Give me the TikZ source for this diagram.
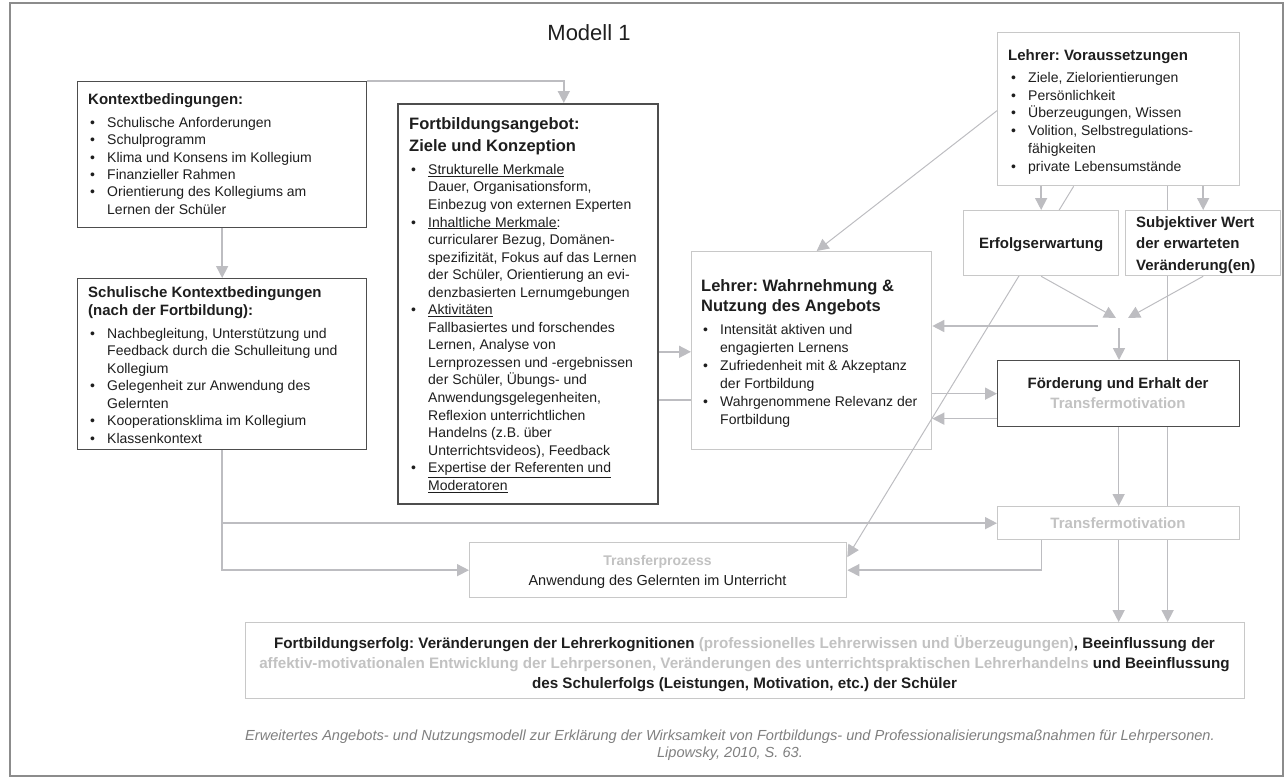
\documentclass[tikz,border=0pt]{standalone}
\usepackage{fontspec}
\setmainfont{Liberation Sans}
\usetikzlibrary{arrows.meta,calc}
\definecolor{dgray}{HTML}{4D4D4D}
\definecolor{lgray}{HTML}{C8C8C8}
\definecolor{acol}{HTML}{BDBDC1}
\definecolor{dcol}{HTML}{A8A8AC}
\definecolor{tcol}{HTML}{1E1E1E}
\definecolor{gtext}{HTML}{C2C2C2}
\definecolor{ctext}{HTML}{7F7F7F}
\definecolor{framecol}{HTML}{8C8C8C}
\pgfdeclarelayer{bg}\pgfdeclarelayer{lines}\pgfsetlayers{bg,lines,main}
\newcommand{\bitem}{\makebox[18pt][l]{\hspace{1pt}\textbullet}}
\newcommand{\bcont}{\hspace*{18pt}}
\frenchspacing
\tikzset{
  dbox/.style={rectangle, draw=dgray, line width=1.3pt, fill=white, inner sep=0pt, anchor=north west},
  lbox/.style={rectangle, draw=lgray, line width=1.3pt, fill=white, inner sep=0pt, anchor=north west},
  ttl/.style={inner sep=0pt, text=tcol, font=\fontsize{15}{18}\selectfont\bfseries},
  bigttl/.style={inner sep=0pt, text=tcol, anchor=north west, align=left},
  itm/.style={inner sep=0pt, anchor=north west, align=left, text=tcol},
  gttl/.style={inner sep=0pt, text=gtext, font=\fontsize{15}{18}\selectfont\bfseries},
  arr/.style={draw=acol, line width=1.6pt, -{Triangle[length=12pt,width=12pt]}, color=acol},
  ln/.style={draw=acol, line width=1.6pt},
  dg/.style={draw=dcol, line width=1pt, -{Triangle[length=12pt,width=12pt]}, color=acol},
  capt/.style={inner sep=0pt, anchor=base, text=ctext, font=\fontsize{14.6}{17}\selectfont\itshape},
  eline/.style={inner sep=0pt, anchor=base, text=tcol, font=\fontsize{15.2}{20}\selectfont\bfseries}
}
\begin{document}
\frenchspacing
\begin{tikzpicture}[x=1pt,y=-1pt]
\useasboundingbox (0,0) rectangle (1285,780);
\draw[draw=framecol, line width=1.5pt] (10,3) rectangle (1283,776);
\node[font=\fontsize{22}{26}\selectfont, text=tcol, anchor=base, inner sep=0pt] (title) at (589,40) {Modell 1};

% boxes
\node[dbox, minimum width=289pt, minimum height=146pt] (kontext) at (77,81) {};
\node[dbox, minimum width=289pt, minimum height=171pt] (schul) at (77,278) {};
\node[dbox, line width=1.6pt, minimum width=260pt, minimum height=400pt] (fortb) at (397,103) {};
\begin{pgfonlayer}{bg}
\node[lbox, minimum width=240pt, minimum height=198pt] (wahr) at (691,251) {};
\end{pgfonlayer}
\node[lbox, minimum width=242pt, minimum height=153pt] (vor) at (997,32) {};
\node[lbox, minimum width=155pt, minimum height=65pt] (erf) at (963,210) {};
\node[lbox, minimum width=155pt, minimum height=65pt] (subj) at (1125,210) {};
\node[dbox, minimum width=242pt, minimum height=66pt] (foerd) at (997,360) {};
\node[lbox, minimum width=242pt, minimum height=33pt] (tmot) at (997,506) {};
\node[lbox, minimum width=377pt, minimum height=55pt] (tproz) at (469,542) {};
\node[lbox, minimum width=999pt, minimum height=76pt] (erfolg) at (245,622) {};

% connectors
\begin{pgfonlayer}{lines}
\draw[arr] (kontext.north east) -| ([xshift=36pt]fortb.north);
\draw[arr] (kontext.south) -- (schul.north);
\draw[arr] (schul.south) |- (tproz.west);
\coordinate (s1) at (schul.south |- tmot.west);
\draw[arr] (s1) -- (tmot.west);
\coordinate (f1) at ([yshift=-48pt]fortb.east);
\draw[arr] (f1) -- (f1 -| wahr.west);
\coordinate (f2) at ([yshift=-96pt]fortb.east);
\draw[ln] (f2) -- (f2 -| wahr.west);
\draw[dg] ([yshift=-1.5pt]vor.west) -- ([xshift=5pt]wahr.north);
\draw[arr] (vor.south -| erf.north) -- (erf.north);
\draw[arr] (vor.south -| subj.north) -- (subj.north);
\coordinate (ja) at (1116,318);
\coordinate (jb) at (1128,318);
\coordinate (jh) at (1098,326);
\coordinate (jv) at (1119,328);
\draw[dg] (erf.south) -- (ja);
\draw[dg] (subj.south) -- (jb);
\draw[arr] (jh) -- (jh -| wahr.east);
\draw[arr] (jv) -- (jv |- foerd.north);
\coordinate (w1) at ([yshift=-43pt]wahr.east);
\draw[arr] (w1) -- (w1 -| foerd.west);
\coordinate (w2) at ([yshift=-25pt]foerd.west);
\draw[arr] (w2) -- (w2 -| wahr.east);
\draw[arr] (foerd.south) -- (tmot.north);
\coordinate (v1) at ([xshift=49pt]vor.south);
\draw[arr] (v1) -- (v1 |- erfolg.north);
\draw[arr] (tmot.south) -- (tmot.south |- erfolg.north);
\coordinate (t1) at ([xshift=-77pt]tmot.south);
\draw[arr] (t1) |- (tproz.east);
\coordinate (t2) at ([yshift=13pt]tproz.east);
\coordinate (d0) at ([xshift=-45pt]vor.south);
\draw[dg] (d0) -- (t2);
\end{pgfonlayer}

% texts
\node[ttl, anchor=base west] (kontextT) at (88,104) {Kontextbedingungen:};
\node[itm, font=\fontsize{14}{17.4}\selectfont] (kontextL) at (89,117) {%
\bitem Schulische Anforderungen\\
\bitem Schulprogramm\\
\bitem Klima und Konsens im Kollegium\\
\bitem Finanzieller Rahmen\\
\bitem Orientierung des Kollegiums am\\
\bcont Lernen der Schüler};

\node[bigttl, font=\fontsize{15}{18}\selectfont\bfseries] (schulT) at (88,286.3) {Schulische Kontextbedingungen\\(nach der Fortbildung):};
\node[itm, font=\fontsize{14}{17.5}\selectfont] (schulL) at (89,328) {%
\bitem Nachbegleitung, Unterstützung und\\
\bcont Feedback durch die Schulleitung und\\
\bcont Kollegium\\
\bitem Gelegenheit zur Anwendung des\\
\bcont Gelernten\\
\bitem Kooperationsklima im Kollegium\\
\bitem Klassenkontext};

\node[bigttl, font=\fontsize{16.5}{22}\selectfont\bfseries] (fortbT) at (409,117.2) {Fortbildungsangebot:\\Ziele und Konzeption};
\node[itm, font=\fontsize{14}{17.55}\selectfont] (fortbL) at (410,164) {%
\bitem \underline{Strukturelle Merkmale}\\
\bcont Dauer, Organisationsform,\\
\bcont Einbezug von externen Experten\\
\bitem \underline{Inhaltliche Merkmale}:\\
\bcont curricularer Bezug, Domänen-\\
\bcont spezifizität, Fokus auf das Lernen\\
\bcont der Schüler, Orientierung an evi-\\
\bcont denzbasierten Lernumgebungen\\
\bitem \underline{Aktivitäten}\\
\bcont Fallbasiertes und forschendes\\
\bcont Lernen, Analyse von\\
\bcont Lernprozessen und -ergebnissen\\
\bcont der Schüler, Übungs- und\\
\bcont Anwendungsgelegenheiten,\\
\bcont Reflexion unterrichtlichen\\
\bcont Handelns (z.B. über\\
\bcont Unterrichtsvideos), Feedback\\
\bitem \underline{Expertise der Referenten und}\\
\bcont \underline{Moderatoren}};

\node[bigttl, font=\fontsize{16.5}{20}\selectfont\bfseries] (wahrT) at (701,279.2) {Lehrer: Wahrnehmung \&\\Nutzung des Angebots};
\node[itm, font=\fontsize{14}{18}\selectfont] (wahrL) at (702,324) {%
\bitem Intensität aktiven und\\
\bcont engagierten Lernens\\
\bitem Zufriedenheit mit \& Akzeptanz\\
\bcont der Fortbildung\\
\bitem Wahrgenommene Relevanz der\\
\bcont Fortbildung};

\node[ttl, anchor=base west] (vorT) at (1008,60) {Lehrer: Voraussetzungen};
\node[itm, font=\fontsize{14}{17.8}\selectfont] (vorL) at (1010,72) {%
\bitem Ziele, Zielorientierungen\\
\bitem Persönlichkeit\\
\bitem Überzeugungen, Wissen\\
\bitem Volition, Selbstregulations-\\
\bcont fähigkeiten\\
\bitem private Lebensumstände};

\node[ttl, anchor=base] (erfT) at ([yshift=-5.5pt]erf.center) {Erfolgserwartung};
\node[bigttl, font=\fontsize{15}{21.5}\selectfont\bfseries] (subjT) at (1136,216.2) {Subjektiver Wert\\der erwarteten\\Veränderung(en)};

\node[ttl, anchor=base] (foerdT1) at (1118,388) {Förderung und Erhalt der};
\node[gttl, anchor=base] (foerdT2) at (1118,408) {Transfermotivation};
\node[gttl, anchor=base] (tmotT) at (1118,528) {Transfermotivation};

\node[inner sep=0pt, anchor=base, text=gtext, font=\fontsize{14}{17}\selectfont\bfseries] (tprozT1) at (657.5,565) {Transferprozess};
\node[inner sep=0pt, anchor=base, text=tcol, font=\fontsize{14.5}{17}\selectfont] (tprozT2) at (657.5,585) {Anwendung des Gelernten im Unterricht};

\node[eline] (erfolgT1) at (744.5,648) {Fortbildungserfolg: Veränderungen der Lehrerkognitionen \textcolor{gtext}{(professionelles Lehrerwissen und Überzeugungen)}, Beeinflussung der};
\node[eline] (erfolgT2) at (744.5,668) {\textcolor{gtext}{affektiv-motivationalen Entwicklung der Lehrpersonen, Veränderungen des unterrichtspraktischen Lehrerhandelns} und Beeinflussung};
\node[eline] (erfolgT3) at (744.5,688) {des Schulerfolgs (Leistungen, Motivation, etc.) der Schüler};

\node[capt] (cap1) at (730,740) {Erweitertes Angebots- und Nutzungsmodell zur Erklärung der Wirksamkeit von Fortbildungs- und Professionalisierungsmaßnahmen für Lehrpersonen.};
\node[capt] (cap2) at (730,757) {Lipowsky, 2010, S. 63.};
\end{tikzpicture}
\end{document}
